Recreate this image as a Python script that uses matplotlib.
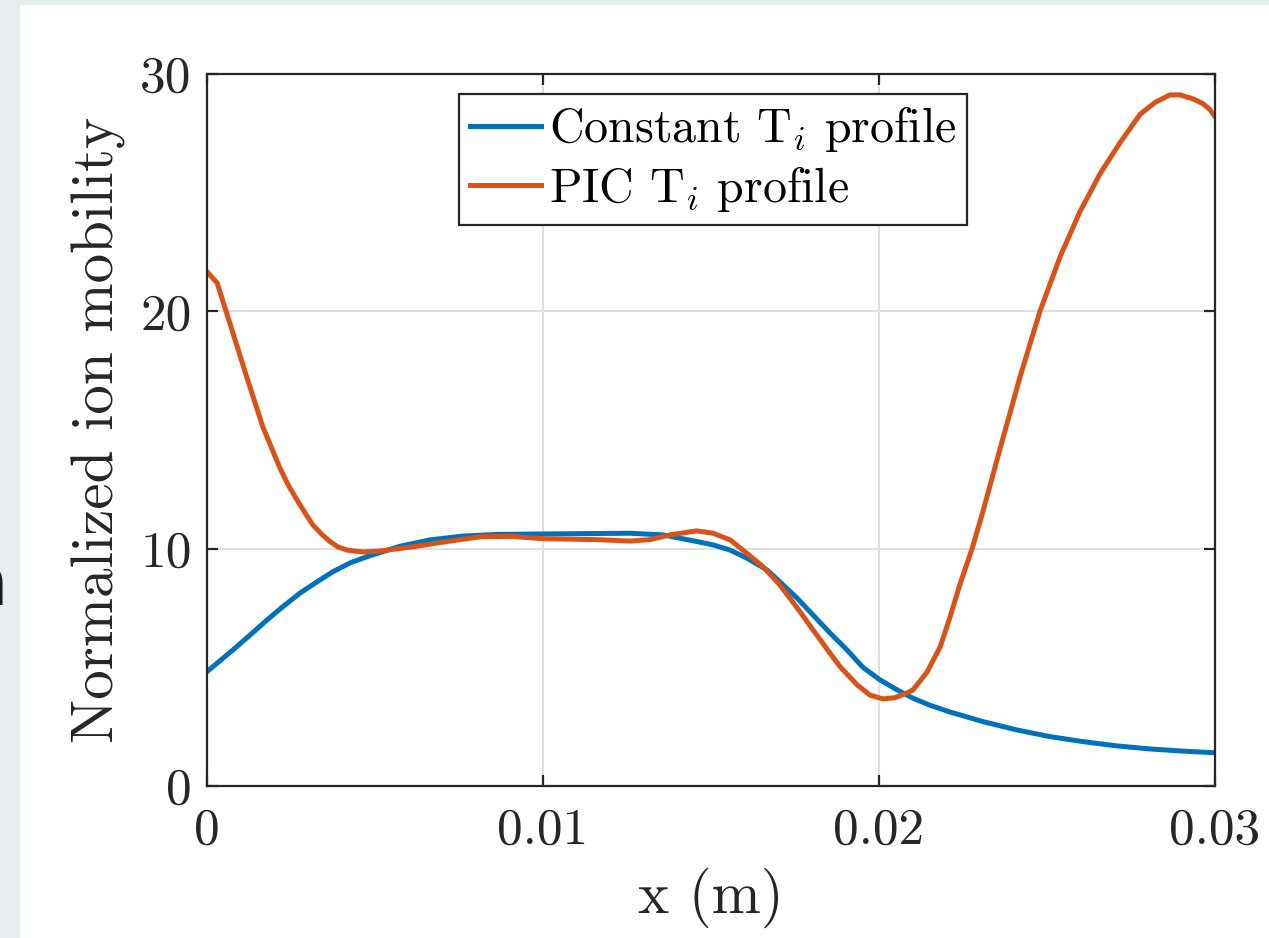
import matplotlib
matplotlib.use("Agg")
import matplotlib.pyplot as plt
from matplotlib.patches import Rectangle

plt.rcParams["font.family"] = "serif"
plt.rcParams["font.serif"] = ["cmr10", "DejaVu Serif"]
plt.rcParams["mathtext.fontset"] = "cm"
plt.rcParams["axes.formatter.use_mathtext"] = True

BLUE   = "#0072BD"
ORANGE = "#D95319"
AXCOL  = "#262626"

# constant Ti profile
x_const = [0.0, 0.00077, 0.00128, 0.00179, 0.00226, 0.00277, 0.00327, 0.00375,
           0.00426, 0.00476, 0.00574, 0.00664, 0.00762, 0.00863, 0.0100, 0.01259,
           0.01357, 0.01458, 0.01506, 0.01557, 0.01607, 0.01667, 0.01705, 0.01756,
           0.01804, 0.01854, 0.01905, 0.01952, 0.02003, 0.02054, 0.02101, 0.02152,
           0.02211, 0.0231, 0.02411, 0.02509, 0.02607, 0.02708, 0.02807, 0.02905,
           0.0300]
y_const = [4.82, 5.73, 6.36, 7.0, 7.56, 8.13, 8.6, 9.03,
           9.4, 9.66, 10.1, 10.37, 10.53, 10.6, 10.62, 10.65,
           10.58, 10.3, 10.16, 9.94, 9.6, 9.1, 8.6, 7.92,
           7.2, 6.45, 5.73, 5.0, 4.47, 4.05, 3.7, 3.4,
           3.12, 2.71, 2.36, 2.08, 1.87, 1.69, 1.56, 1.47,
           1.40]

# PIC Ti profile
x_pic = [0.0, 0.0003, 0.00068, 0.00119, 0.00167, 0.00217, 0.00241, 0.00268,
         0.00292, 0.00315, 0.00342, 0.00366, 0.0039, 0.00417, 0.00464, 0.00515,
         0.00613, 0.00714, 0.00813, 0.00902, 0.0100, 0.01161, 0.01259, 0.01318,
         0.01378, 0.01458, 0.01506, 0.01557, 0.01607, 0.01655, 0.01705, 0.01756,
         0.01804, 0.01854, 0.01884, 0.01935, 0.01973, 0.02012, 0.02048, 0.02083,
         0.02101, 0.02143, 0.02182, 0.02211, 0.02241, 0.02277, 0.0231, 0.0236,
         0.0242, 0.02479, 0.02539, 0.02598, 0.02658, 0.02717, 0.02777, 0.02821,
         0.02866, 0.02896, 0.02935, 0.02964, 0.02985, 0.0300]
y_pic = [21.67, 21.2, 19.5, 17.2, 15.1, 13.4, 12.7, 12.05,
         11.5, 11.0, 10.6, 10.3, 10.07, 9.94, 9.86, 9.9,
         10.08, 10.3, 10.5, 10.52, 10.42, 10.38, 10.32, 10.38,
         10.58, 10.75, 10.65, 10.37, 9.8, 9.24, 8.47, 7.52,
         6.57, 5.6, 5.03, 4.26, 3.83, 3.67, 3.72, 3.92,
         4.05, 4.8, 5.86, 7.1, 8.5, 10.0, 11.6, 14.2,
         17.25, 20.0, 22.3, 24.2, 25.8, 27.1, 28.3, 28.8,
         29.12, 29.12, 28.95, 28.75, 28.5, 28.2]

xticks = [0, 0.01, 0.02, 0.03]
xtick_labels = ["0", "0.01", "0.02", "0.03"]
yticks = [0, 10, 20, 30]
ytick_labels = ["0", "10", "20", "30"]

fig = plt.figure(figsize=(12.69, 9.38), dpi=100, facecolor="#e6eef0")
panel = Rectangle((20 / 1269, 0), 1 - 20 / 1269, 933 / 938,
                  transform=fig.transFigure, facecolor="white",
                  edgecolor="none", zorder=-10)
fig.add_artist(panel)
fig.text(8 / 1269, 0.375, "n", family="DejaVu Sans", fontsize=48,
         color="#1a1a1a", ha="right", va="center")

ax = fig.add_axes([207 / 1269, 152 / 938, 1008 / 1269, 712 / 938])
ax.set_facecolor("white")

ax.plot(x_const, y_const, color=BLUE, lw=3.6, label=r"Constant T$_i$ profile")
ax.plot(x_pic, y_pic, color=ORANGE, lw=3.6, label=r"PIC T$_i$ profile")

ax.set_xlim(0, 0.03)
ax.set_ylim(0, 30)
ax.set_xticks(xticks)
ax.set_xticklabels(xtick_labels)
ax.set_yticks(yticks)
ax.set_yticklabels(ytick_labels)

ax.grid(True, color="#dfdfdf", linewidth=1.4)
ax.set_axisbelow(True)
for sp in ax.spines.values():
    sp.set_edgecolor(AXCOL)
    sp.set_linewidth(1.6)
ax.tick_params(direction="in", length=8, width=1.6, colors=AXCOL,
               labelsize=37, top=True, right=True)
ax.tick_params(axis="x", pad=16)
ax.tick_params(axis="y", pad=11)

ax.set_xlabel("x (m)", fontsize=42.5, color=AXCOL, labelpad=10)
ax.set_ylabel("Normalized ion mobility", fontsize=42.5, color=AXCOL, labelpad=10)

leg = ax.legend(loc="upper left", bbox_to_anchor=(0.25, 0.972), fontsize=34.5,
                frameon=True, fancybox=False, framealpha=1, edgecolor=AXCOL,
                handlelength=1.5, handletextpad=0.15, labelspacing=0.2,
                borderpad=0.22, borderaxespad=0)
leg.get_frame().set_linewidth(1.6)

fig.savefig("out.png", dpi=100, facecolor=fig.get_facecolor())
